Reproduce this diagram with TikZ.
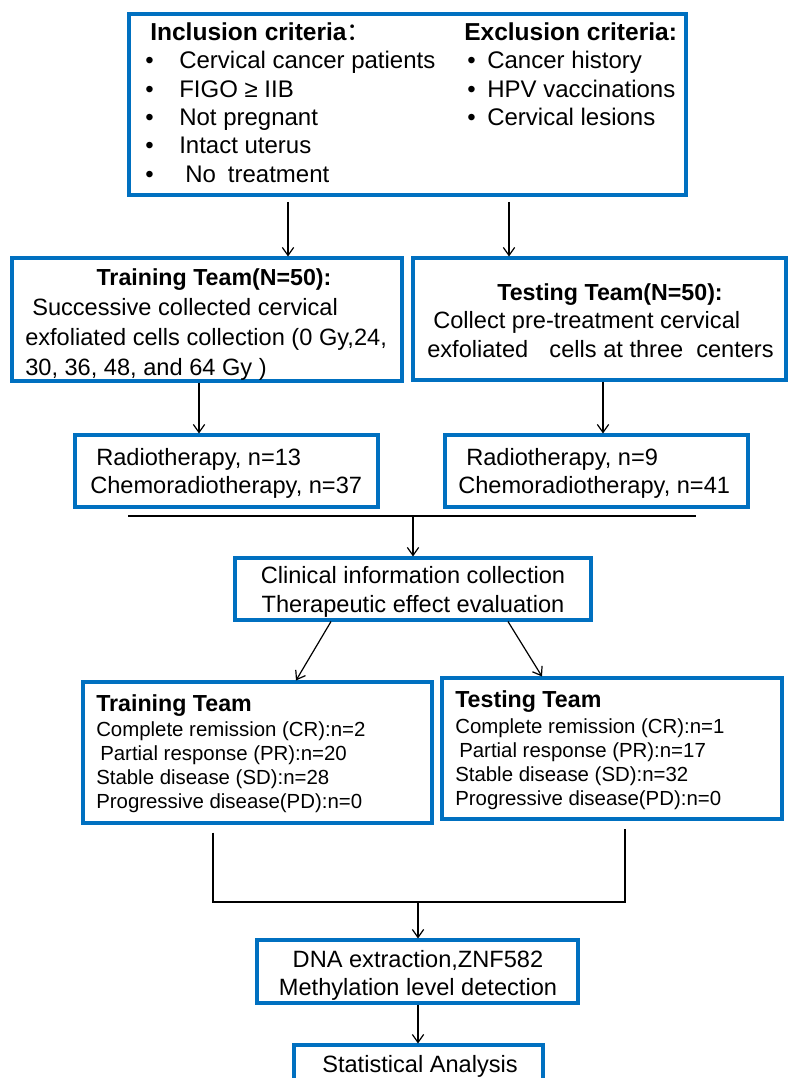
\documentclass[tikz,border=0pt]{standalone}
\usepackage{fontspec}
\setmainfont{Liberation Sans}
\newfontfamily\cjkfont{Noto Sans CJK SC}
\usetikzlibrary{arrows.meta,fit}
\definecolor{boxblue}{RGB}{0,112,192}
\tikzset{
  box/.style={draw=boxblue, line width=2.3pt, inner sep=0pt},
  txt/.style={anchor=base west, inner sep=0pt},
  ctxt/.style={anchor=base, inner sep=0pt},
  conn/.style={line width=0.9pt, black},
  arr/.style={conn, -{Straight Barb[length=6pt,width=8.5pt,line width=0.9pt]}},
  fTop/.style={font=\fontsize{18}{22}\selectfont},
  fTopB/.style={font=\fontsize{18.4}{22}\selectfont\bfseries},
  fMid/.style={font=\fontsize{17.7}{21}\selectfont},
  fMidB/.style={font=\fontsize{17.4}{21}\selectfont\bfseries},
  fLow/.style={font=\fontsize{15.3}{18}\selectfont},
  fLowB/.style={font=\fontsize{17.4}{21}\selectfont\bfseries},
}
\begin{document}
\begin{tikzpicture}[x=0.75pt,y=-0.75pt]
\clip (0,0) rectangle (793,1078);
\fill[white] (0,0) rectangle (793,1078);

% ---------- top criteria box ----------
\node[box, fit={(129,14) (686,195)}] (crit) {};
\node[txt, fTopB] (inct) at (150,40) {Inclusion criteria{\cjkfont\mdseries ：}};
\node[txt, fTop] (ib1) at (145,68) {•};
\node[txt, fTop] (ib2) at (145,97) {•};
\node[txt, fTop] (ib3) at (145,125) {•};
\node[txt, fTop] (ib4) at (145,153) {•};
\node[txt, fTop] (ib5) at (145,182) {•};
\node[txt, fTop] (i1) at (179,68) {Cervical cancer patients};
\node[txt, fTop] (i2) at (179,97) {FIGO ≥ IIB};
\node[txt, fTop] (i3) at (179,125) {Not pregnant};
\node[txt, fTop] (i4) at (179,153) {Intact uterus};
\node[txt, fTop] (i5) at (185,182) {No\hspace{0.5em}treatment};
\node[txt, fTopB] (exct) at (464,40) {Exclusion criteria:};
\node[txt, fTop] (eb1) at (467,68) {•};
\node[txt, fTop] (eb2) at (467,97) {•};
\node[txt, fTop] (eb3) at (467,125) {•};
\node[txt, fTop] (e1) at (487,68) {Cancer history};
\node[txt, fTop] (e2) at (487,97) {HPV vaccinations};
\node[txt, fTop] (e3) at (487,125) {Cervical lesions};

% ---------- training / testing (N=50) ----------
\node[box, fit={(12,258) (402,381)}] (train) {};
\node[ctxt, fMidB] (traint) at (214,285) {Training Team(N=50):};
\node[txt, fMid] (tr1) at (32,315) {Successive collected cervical};
\node[txt, fMid] (tr2) at (25,345) {exfoliated cells collection (0 Gy,24,};
\node[txt, fMid] (tr3) at (25,375) {30, 36, 48, and 64 Gy )};

\node[box, fit={(413,258) (786,380)}] (test) {};
\node[ctxt, fMidB] (testt) at (610,300) {Testing Team(N=50):};
\node[txt, fMid] (te1) at (433,328) {Collect pre-treatment cervical};
\node[txt, fMid] (te2) at (427,357) {exfoliated\hspace{0.9em}cells at three\hspace{0.55em}centers};

% ---------- radiotherapy boxes ----------
\node[box, fit={(75,435) (378,507)}] (lrad) {};
\node[txt, fMid] (lr1) at (96,465) {Radiotherapy, n=13};
\node[txt, fMid] (lr2) at (90,493) {Chemoradiotherapy, n=37};

\node[box, fit={(445,435) (748,507)}] (rrad) {};
\node[txt, fMid] (rr1) at (466,465) {Radiotherapy, n=9};
\node[txt, fMid] (rr2) at (458,493) {Chemoradiotherapy, n=41};

% ---------- clinical box ----------
\node[box, fit={(235,558) (591,620)}] (clin) {};
\node[ctxt, fMid] (cl1) at (413,583) {Clinical information collection};
\node[ctxt, fMid] (cl2) at (413,612) {Therapeutic effect evaluation};

% ---------- outcome boxes ----------
\node[box, fit={(83,682) (432,823)}] (otrain) {};
\node[txt, fLowB] (ott) at (96,711) {Training Team};
\node[txt, fLow] (ot1) at (96,736) {Complete remission (CR):n=2};
\node[txt, fLow] (ot2) at (100,760) {Partial response (PR):n=20};
\node[txt, fLow] (ot3) at (96,784) {Stable disease (SD):n=28};
\node[txt, fLow] (ot4) at (96,808) {Progressive disease(PD):n=0};

\node[box, fit={(442,678) (782,819)}] (otest) {};
\node[txt, fLowB] (oet) at (455,707) {Testing Team};
\node[txt, fLow] (oe1) at (455,733) {Complete remission (CR):n=1};
\node[txt, fLow] (oe2) at (459,757) {Partial response (PR):n=17};
\node[txt, fLow] (oe3) at (455,781) {Stable disease (SD):n=32};
\node[txt, fLow] (oe4) at (455,805) {Progressive disease(PD):n=0};

% ---------- DNA / statistics ----------
\node[box, fit={(257,940) (578,1003)}] (dna) {};
\node[ctxt, fMid] (dn1) at (418,967) {DNA extraction,ZNF582};
\node[ctxt, fMid] (dn2) at (418,995) {Methylation level detection};

\node[box, fit={(294,1045) (543,1110)}] (stat) {};
\node[ctxt, fMid] (st1) at (420,1072) {Statistical Analysis};

% ---------- connectors ----------
\coordinate (xa) at (288,0);
\coordinate (xb) at (509,0);
\coordinate (xc) at (199,0);
\coordinate (xd) at (603,0);
\coordinate (c1) at (331,0);
\coordinate (c2) at (296,0);
\coordinate (c3) at (508,0);
\coordinate (c4) at (542,0);
\coordinate (bl) at (213,0);
\coordinate (br) at (625,0);
\coordinate (hl) at (128,516);
\coordinate (hr) at (696,516);
\coordinate (hm) at (413,516);
\coordinate (bj) at (418,902);

\draw[arr] ([yshift=-4pt]crit.south -| xa) -- (train.north -| xa);
\draw[arr] ([yshift=-4pt]crit.south -| xb) -- (test.north -| xb);
\draw[arr] (train.south -| xc) -- (lrad.north -| xc);
\draw[arr] (test.south -| xd) -- (rrad.north -| xd);
\draw[conn] (hl) -- (hr);
\draw[arr] (hm) -- (clin.north -| hm);
\draw[arr] (clin.south -| c1) -- (otrain.north -| c2);
\draw[arr] (clin.south -| c3) -- (otest.north -| c4);
\draw[conn] ([yshift=-6pt]otrain.south -| bl) -- (bl |- bj) -- (br |- bj) -- ([yshift=-6pt]otest.south -| br);
\draw[arr] (bj) -- (dna.north -| bj);
\draw[arr] (dna.south -| bj) -- (stat.north -| bj);
\end{tikzpicture}
\end{document}
